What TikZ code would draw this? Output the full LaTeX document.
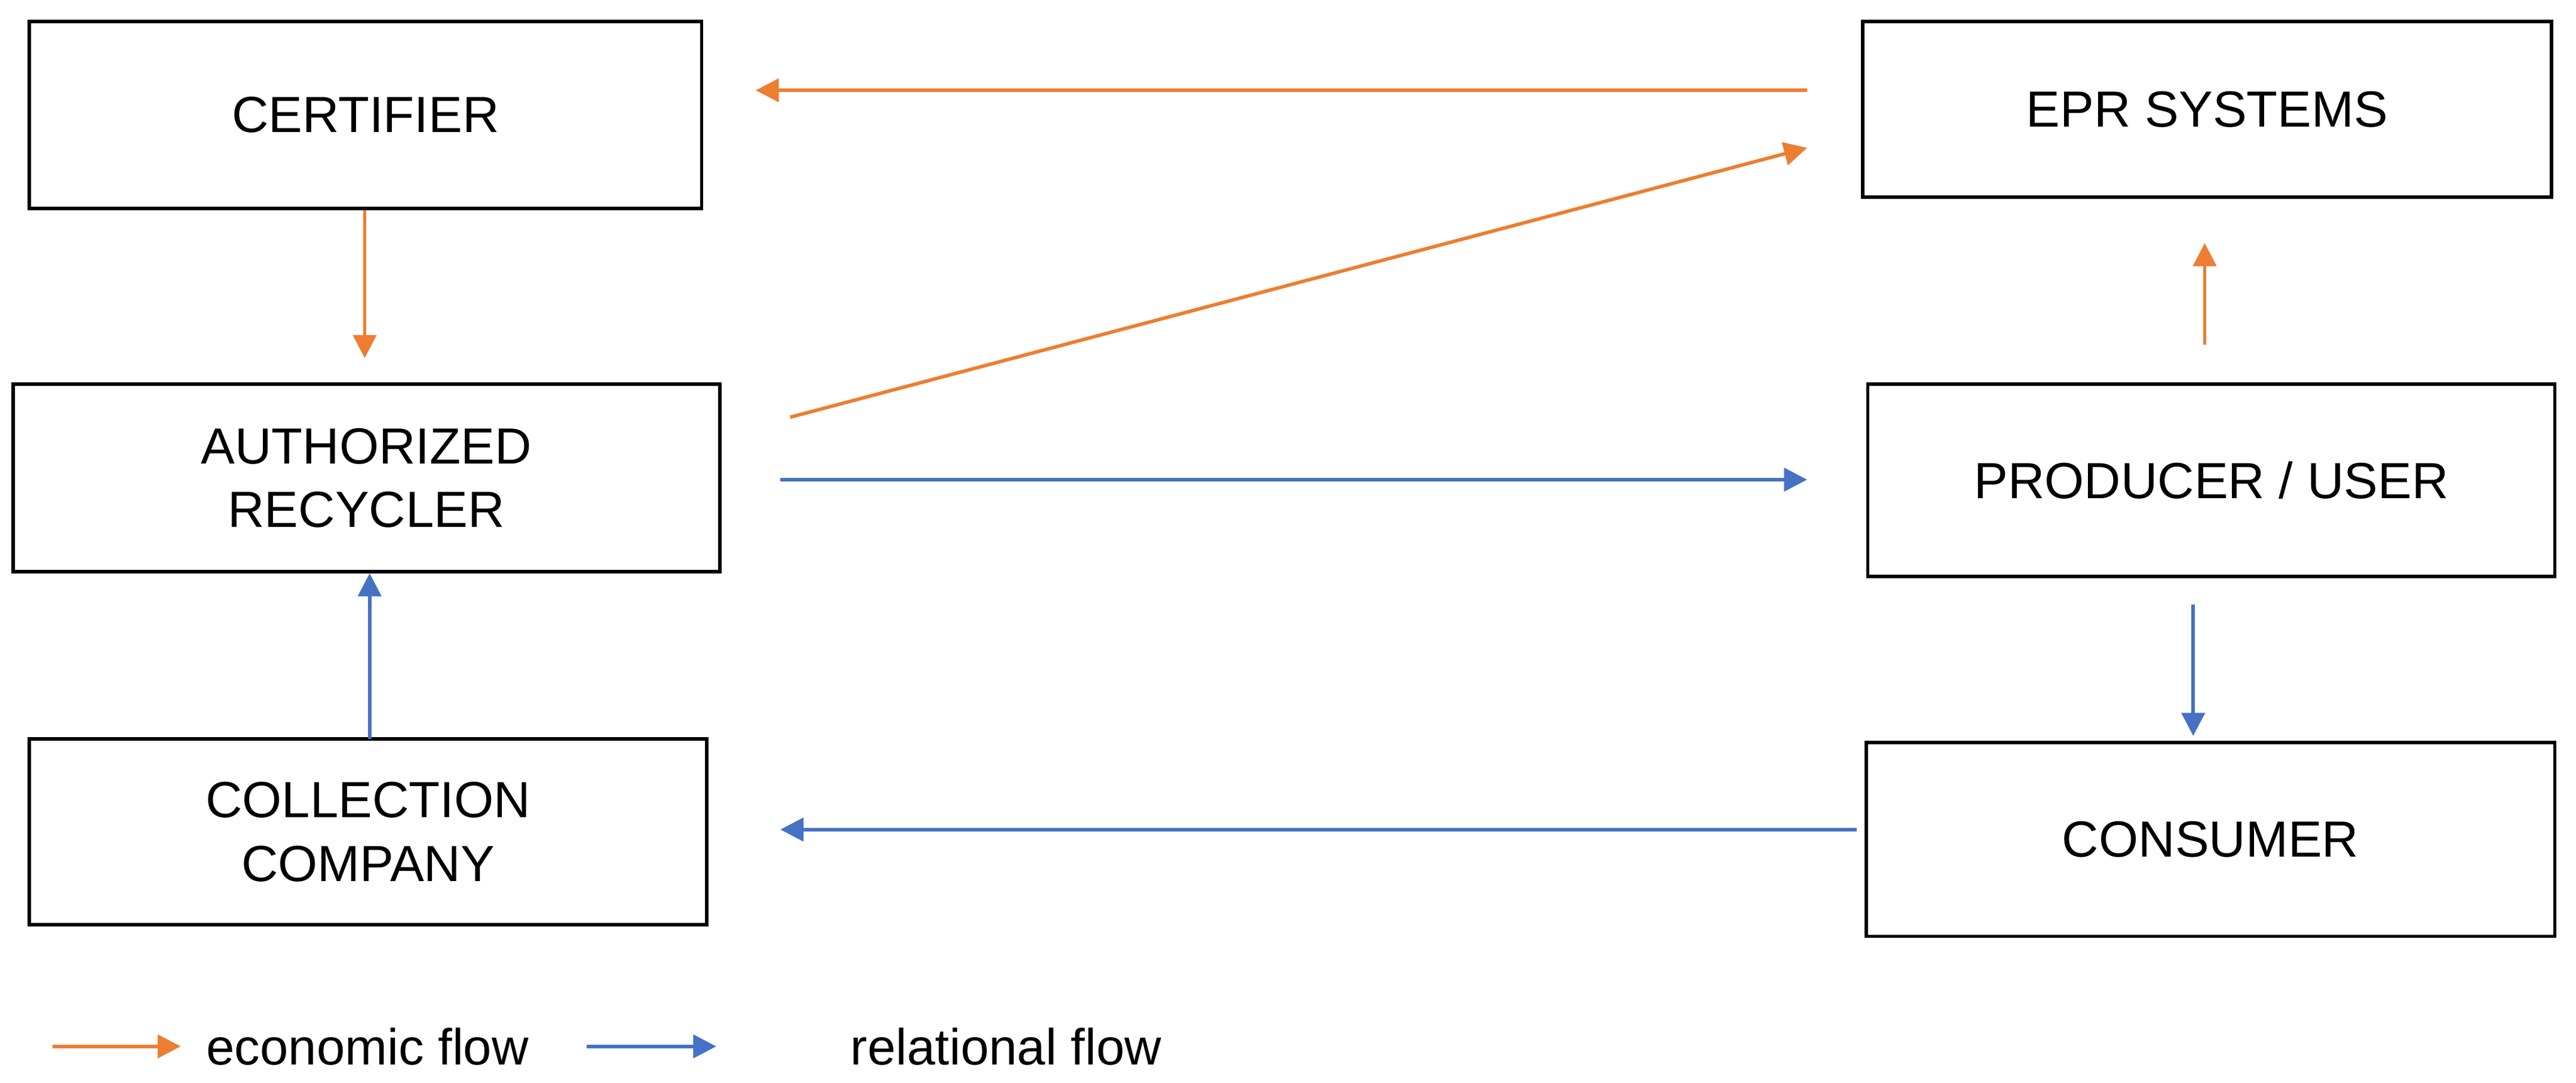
\documentclass[tikz,border=0pt]{standalone}
\usepackage{fontspec}
\setmainfont{Liberation Sans}
\usetikzlibrary{arrows.meta}
\definecolor{econ}{HTML}{ED7D31}
\definecolor{rel}{HTML}{4472C4}
\tikzset{box/.style={draw, line width=0.6pt, inner sep=0pt, align=center,
                     font=\fontsize{8.8}{11}\selectfont},
         eflow/.style={draw=econ, line width=0.6pt, -{Triangle[length=4pt,width=4pt]}, econ},
         rflow/.style={draw=rel, line width=0.6pt, -{Triangle[length=4pt,width=4pt]}, rel},
         lbl/.style={font=\fontsize{8.8}{11}\selectfont, anchor=west, inner sep=0pt}}
\begin{document}
\begin{tikzpicture}[x=0.01cm, y=-0.01cm]
	\useasboundingbox (0,0) rectangle (1568,659);
	% boxes
	\node[box, minimum width=4.09cm, minimum height=1.14cm] (cert) at (222.5,70) {CERTIFIER};
	\node[box, minimum width=4.30cm, minimum height=1.14cm] (recy) at (223,291) {AUTHORIZED\\RECYCLER};
	\node[box, minimum width=4.12cm, minimum height=1.13cm] (coll) at (224,506.5) {COLLECTION\\COMPANY};
	\node[box, minimum width=4.19cm, minimum height=1.07cm] (epr) at (1343.5,66.5) {EPR SYSTEMS};
	\node[box, minimum width=4.18cm, minimum height=1.17cm] (prod) at (1346,292.5) {PRODUCER / USER};
	\node[box, minimum width=4.19cm, minimum height=1.18cm] (cons) at (1345.5,511) {CONSUMER};
	% arrow ends
	\coordinate (e1a) at (1100,55);   \coordinate (e1b) at (460,55);
	\coordinate (e2a) at (222,128);   \coordinate (e2b) at (222,218);
	\coordinate (e3a) at (481,254);   \coordinate (e3b) at (1100,90);
	\coordinate (e4a) at (1342,210);  \coordinate (e4b) at (1342,148);
	\coordinate (r1a) at (475,292);   \coordinate (r1b) at (1100,292);
	\coordinate (r2a) at (1335,368);  \coordinate (r2b) at (1335,448);
	\coordinate (r3a) at (1130,505);  \coordinate (r3b) at (475,505);
	\coordinate (r4a) at (225,450);   \coordinate (r4b) at (225,349);
	\draw[eflow] (e1a) -- (e1b);
	\draw[eflow] (e2a) -- (e2b);
	\draw[eflow] (e3a) -- (e3b);
	\draw[eflow] (e4a) -- (e4b);
	\draw[rflow] (r1a) -- (r1b);
	\draw[rflow] (r2a) -- (r2b);
	\draw[rflow] (r3a) -- (r3b);
	\draw[rflow] (r4a) -- (r4b);
	% legend
	\coordinate (le1) at (32,637);  \coordinate (le2) at (110,637);
	\coordinate (lr1) at (357,637); \coordinate (lr2) at (436,637);
	\draw[eflow] (le1) -- (le2);
	\draw[rflow] (lr1) -- (lr2);
	\node[lbl] (leco) at (125,637) {economic flow};
	\node[lbl] (lrel) at (517,637) {relational flow};
\end{tikzpicture}
\end{document}
